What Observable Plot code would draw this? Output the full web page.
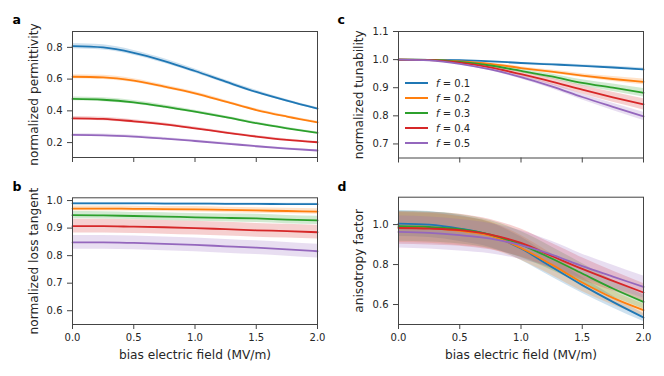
<!DOCTYPE html>
<html>
<head>
<meta charset="utf-8">
<script src="https://cdn.jsdelivr.net/npm/d3@7"></script>
<script src="https://cdn.jsdelivr.net/npm/@observablehq/plot@0.6"></script>
<style>
  body { margin: 0; background: #fff; }
  #chart { position: relative; width: 664px; height: 376px; font-family: "DejaVu Sans", sans-serif; }
  #chart svg { position: absolute; overflow: visible; }
  .legend { position: absolute; left: 403px; top: 76px; font-size: 10px; color: #262626; }
  .legend .row { height: 15px; line-height: 15px; white-space: nowrap; }
  .legend .sw { display: inline-block; width: 23px; height: 0; border-top: 2px solid; vertical-align: middle; margin: 0 8px 0 2px; position: relative; top: -1px; }
</style>
</head>
<body>
<div id="chart"></div>
<script>
// ---- data ----
const fLabels = ["0.1", "0.2", "0.3", "0.4", "0.5"];
const biasField = [0, 0.25, 0.5, 0.75, 1.0, 1.25, 1.5, 1.75, 2.0];
const xTicks = [0, 0.5, 1.0, 1.5, 2.0];

// a: normalized permittivity (one row per f)
const permittivity = [
  [0.808, 0.800, 0.766, 0.714, 0.651, 0.584, 0.519, 0.464, 0.414],
  [0.615, 0.611, 0.590, 0.552, 0.510, 0.458, 0.405, 0.364, 0.328],
  [0.475, 0.470, 0.454, 0.427, 0.395, 0.360, 0.322, 0.290, 0.261],
  [0.353, 0.349, 0.334, 0.315, 0.290, 0.263, 0.238, 0.217, 0.202],
  [0.248, 0.246, 0.238, 0.225, 0.210, 0.194, 0.177, 0.162, 0.150]
];
const permittivityErr = [
  [0.016, 0.016, 0.015, 0.014, 0.013, 0.011, 0.010, 0.008, 0.007],
  [0.013, 0.013, 0.012, 0.011, 0.010, 0.009, 0.008, 0.007, 0.006],
  [0.012, 0.012, 0.011, 0.010, 0.009, 0.008, 0.007, 0.006, 0.005],
  [0.011, 0.011, 0.010, 0.009, 0.008, 0.007, 0.006, 0.006, 0.005],
  [0.008, 0.008, 0.008, 0.007, 0.006, 0.006, 0.005, 0.005, 0.004]
];

// b: normalized loss tangent
const lossTangent = [
  [0.990, 0.990, 0.990, 0.989, 0.989, 0.988, 0.988, 0.987, 0.987],
  [0.971, 0.971, 0.970, 0.969, 0.968, 0.966, 0.964, 0.962, 0.960],
  [0.947, 0.946, 0.944, 0.942, 0.939, 0.937, 0.935, 0.931, 0.928],
  [0.907, 0.907, 0.905, 0.903, 0.900, 0.896, 0.892, 0.889, 0.885],
  [0.848, 0.848, 0.846, 0.843, 0.839, 0.834, 0.829, 0.823, 0.816]
];
const lossTangentErr = [
  [0.003, 0.003, 0.003, 0.003, 0.003, 0.003, 0.003, 0.003, 0.003],
  [0.009, 0.009, 0.009, 0.009, 0.010, 0.010, 0.010, 0.010, 0.010],
  [0.013, 0.013, 0.013, 0.014, 0.014, 0.014, 0.015, 0.015, 0.015],
  [0.025, 0.025, 0.025, 0.025, 0.025, 0.025, 0.025, 0.025, 0.025],
  [0.025, 0.025, 0.025, 0.025, 0.025, 0.025, 0.025, 0.025, 0.025]
];

// c: normalized tunability
const tunability = [
  [1.000, 0.999, 0.998, 0.994, 0.988, 0.983, 0.978, 0.972, 0.965],
  [1.000, 0.999, 0.994, 0.985, 0.970, 0.957, 0.943, 0.931, 0.921],
  [1.000, 0.999, 0.992, 0.979, 0.960, 0.940, 0.917, 0.900, 0.882],
  [1.000, 0.998, 0.989, 0.972, 0.948, 0.922, 0.893, 0.866, 0.841],
  [1.000, 0.997, 0.985, 0.965, 0.938, 0.905, 0.867, 0.832, 0.798]
];
const tunabilityErr = [
  [0, 0.001, 0.001, 0.002, 0.002, 0.003, 0.004, 0.004, 0.005],
  [0, 0.001, 0.002, 0.003, 0.005, 0.006, 0.007, 0.009, 0.010],
  [0, 0.001, 0.002, 0.004, 0.007, 0.009, 0.011, 0.013, 0.015],
  [0, 0.001, 0.003, 0.006, 0.009, 0.012, 0.015, 0.018, 0.020],
  [0, 0.001, 0.003, 0.005, 0.007, 0.009, 0.011, 0.013, 0.015]
];

// d: anisotropy factor
const anisotropy = [
  [1.005, 1.000, 0.980, 0.947, 0.880, 0.788, 0.697, 0.613, 0.535],
  [0.985, 0.982, 0.968, 0.945, 0.883, 0.800, 0.710, 0.633, 0.572],
  [0.992, 0.988, 0.977, 0.950, 0.900, 0.830, 0.755, 0.680, 0.613],
  [0.983, 0.980, 0.972, 0.950, 0.908, 0.843, 0.778, 0.718, 0.660],
  [0.963, 0.958, 0.947, 0.930, 0.897, 0.850, 0.792, 0.740, 0.688]
];
const anisotropyErr = [
  [0.065, 0.065, 0.065, 0.062, 0.058, 0.050, 0.040, 0.030, 0.020],
  [0.075, 0.075, 0.073, 0.068, 0.062, 0.054, 0.045, 0.036, 0.030],
  [0.075, 0.075, 0.074, 0.070, 0.065, 0.058, 0.050, 0.042, 0.035],
  [0.082, 0.082, 0.080, 0.076, 0.070, 0.063, 0.056, 0.050, 0.045],
  [0.080, 0.080, 0.079, 0.076, 0.072, 0.066, 0.060, 0.057, 0.055]
];

// ---- styles ----
const colors = ["#1f77b4", "#ff7f0e", "#2ca02c", "#d62728", "#9467bd"];
const ink = "#262626";

function rowsFor(values, errs) {
  const rows = [];
  fLabels.forEach((f, i) => biasField.forEach((x, j) => {
    rows.push({f, x, y: values[i][j], lo: values[i][j] - errs[i][j], hi: values[i][j] + errs[i][j]});
  }));
  return rows;
}

function panel(o) {
  const rows = rowsFor(o.values, o.errs);
  const marks = [
    Plot.areaY(rows, {x: "x", y1: "lo", y2: "hi", z: "f", fill: "f", fillOpacity: 0.22, curve: "monotone-x"}),
    Plot.lineY(rows, {x: "x", y: "y", z: "f", stroke: "f", strokeWidth: 1.8, curve: "monotone-x"}),
    Plot.frame({stroke: "#444", strokeWidth: 1}),
    Plot.axisX({ticks: xTicks, tickSize: 5, tickPadding: 4, tickFormat: o.showX ? (d => d.toFixed(1)) : (() => ""), label: null, stroke: "#444", fontSize: 10}),
    Plot.axisY({ticks: o.yTicks, tickSize: 5, tickPadding: 5, tickFormat: d => d.toFixed(1), label: null, stroke: "#444", fontSize: 10}),
    Plot.text([o.yLabel], {frameAnchor: "left", dx: o.yLabelDx, rotate: -90, text: d => d, fontSize: 12.2, fill: ink, textAnchor: "middle", lineAnchor: "middle"}),
    Plot.text([o.tag], {frameAnchor: "top-left", dx: o.tagDx, dy: o.tagDy, text: d => d, fontSize: 12.5, fontWeight: "bold", fill: "#000", textAnchor: "start", lineAnchor: "middle"})
  ];
  if (o.showX) {
    marks.push(Plot.text(["bias electric field (MV/m)"], {frameAnchor: "bottom", dy: 31, text: d => d, fontSize: 12.2, fill: ink, textAnchor: "middle", lineAnchor: "middle"}));
  }
  const svg = Plot.plot({
    width: 332, height: 188,
    marginLeft: o.ml, marginRight: o.mr, marginTop: o.mt, marginBottom: o.mb,
    style: {fontFamily: "DejaVu Sans", fontSize: "10px", color: ink, background: "transparent"},
    x: {domain: [0, 2]},
    y: {domain: o.yDomain},
    color: {domain: fLabels, range: colors},
    marks
  });
  svg.style.left = o.left + "px";
  svg.style.top = o.top + "px";
  return svg;
}

const chart = document.getElementById("chart");
chart.append(panel({
  values: permittivity, errs: permittivityErr, yDomain: [0.106, 0.900], yTicks: [0.2, 0.4, 0.6, 0.8],
  yLabel: "normalized permittivity", tag: "a", showX: false,
  left: 0, top: 0, ml: 72, mr: 15, mt: 31, mb: 31, yLabelDx: -38, tagDx: -60, tagDy: -11.5
}));
chart.append(panel({
  values: tunability, errs: tunabilityErr, yDomain: [0.65, 1.10], yTicks: [0.7, 0.8, 0.9, 1.0, 1.1],
  yLabel: "normalized tunability", tag: "c", showX: false,
  left: 332, top: 0, ml: 66, mr: 21, mt: 31, mb: 30.5, yLabelDx: -39, tagDx: -61, tagDy: -11.5
}));
chart.append(panel({
  values: lossTangent, errs: lossTangentErr, yDomain: [0.55, 1.01], yTicks: [0.6, 0.7, 0.8, 0.9, 1.0],
  yLabel: "normalized loss tangent", tag: "b", showX: true,
  left: 0, top: 188, ml: 72, mr: 15, mt: 9.3, mb: 52, yLabelDx: -38, tagDx: -60, tagDy: -10.5
}));
chart.append(panel({
  values: anisotropy, errs: anisotropyErr, yDomain: [0.5, 1.137], yTicks: [0.6, 0.8, 1.0],
  yLabel: "anisotropy factor", tag: "d", showX: true,
  left: 332, top: 188, ml: 66, mr: 21, mt: 8.7, mb: 52, yLabelDx: -39, tagDx: -61, tagDy: -10
}));

// legend for panel c
const legend = document.createElement("div");
legend.className = "legend";
fLabels.forEach((f, i) => {
  const row = document.createElement("div");
  row.className = "row";
  const sw = document.createElement("span");
  sw.className = "sw";
  sw.style.borderTopColor = colors[i];
  row.append(sw);
  const it = document.createElement("i");
  it.textContent = "f";
  row.append(it, " = " + f);
  legend.append(row);
});
chart.append(legend);
</script>
</body>
</html>
